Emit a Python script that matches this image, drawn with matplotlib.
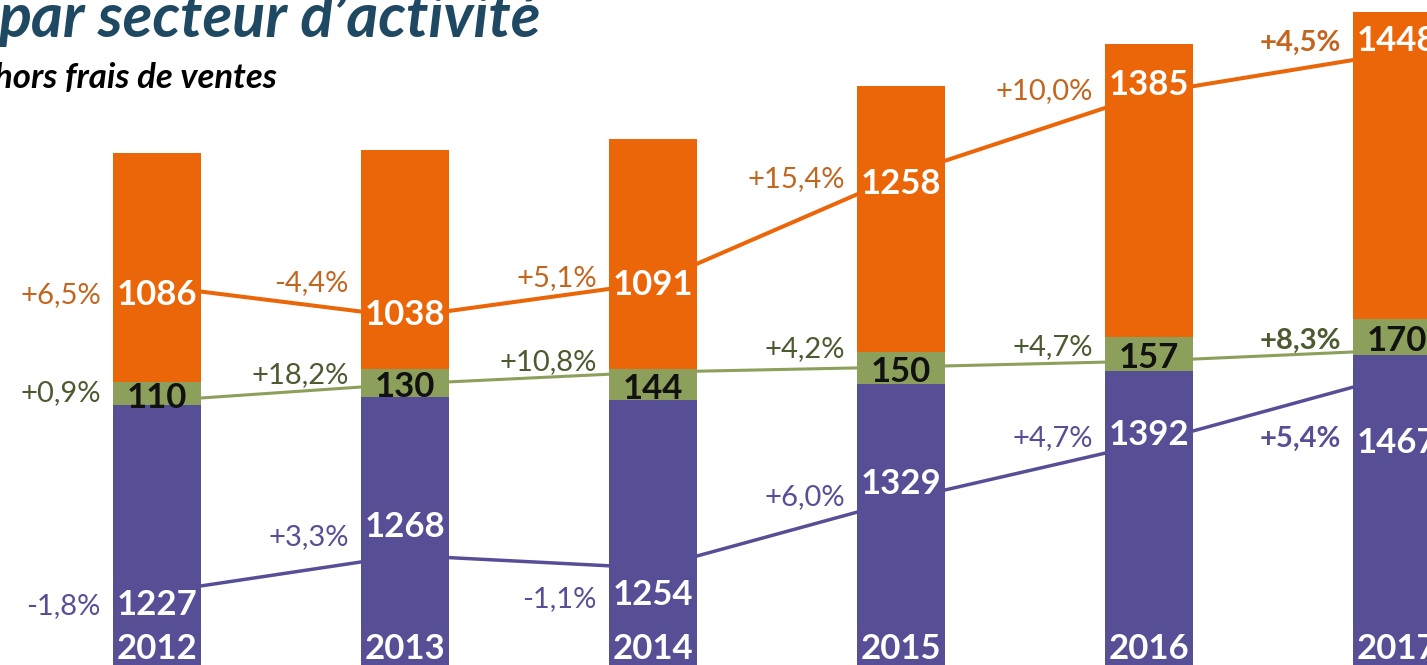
import matplotlib.pyplot as plt
import numpy as np

years = ['2012', '2013', '2014', '2015', '2016', '2017']
purple_vals = [1227, 1268, 1254, 1329, 1392, 1467]
green_vals = [110, 130, 144, 150, 157, 170]
orange_vals = [1086, 1038, 1091, 1258, 1385, 1448]
purple_pct = ['-1,8%', '+3,3%', '-1,1%', '+6,0%', '+4,7%', '+5,4%']
green_pct = ['+0,9%', '+18,2%', '+10,8%', '+4,2%', '+4,7%', '+8,3%']
orange_pct = ['+6,5%', '-4,4%', '+5,1%', '+15,4%', '+10,0%', '+4,5%']

PURPLE = '#574F96'
GREEN = '#8C9F5B'
ORANGE = '#EA6608'
PURPLE_TXT = '#574F96'
GREEN_TXT = '#4B5A30'
ORANGE_TXT = '#C2661F'

plt.rcParams['font.family'] = ['Lato', 'DejaVu Sans']

fig = plt.figure(figsize=(14.27, 6.65), dpi=100)
x = np.arange(len(years))
xlim = (-0.633, 5.121)
width = 0.355


def line_axes(lims):
    a = fig.add_axes([0, 0, 1, 1], zorder=0)
    a.set_xlim(*xlim)
    a.set_ylim(*lims)
    a.axis('off')
    return a


# each line has its own scale, drawn behind the bars
ax_p = line_axes((1147, 1881))
ax_g = line_axes((-200.6, 581.8))
ax_o = line_axes((498, 1530))
ax_p.plot(x, purple_vals, color=PURPLE, lw=2.5)
ax_g.plot(x, green_vals, color=GREEN, lw=2.2)
ax_o.plot(x, orange_vals, color=ORANGE, lw=2.9)

ax = fig.add_axes([0, 0, 1, 1], zorder=1)
ax.set_xlim(*xlim)
ax.set_ylim(0, 3144)
ax.axis('off')

p = np.array(purple_vals)
g = np.array(green_vals)
o = np.array(orange_vals)
ax.bar(x, p, width, color=PURPLE)
ax.bar(x, g, width, bottom=p, color=GREEN)
ax.bar(x, o, width, bottom=p + g, color=ORANGE)

# label offsets in pixels (manual placement as in the original)
o_val_dy = [-18.5, -7.5, -12, -18.5, -2, 1.5]
p_val_dy = [-22, 18.5, -37, 6, -2, -77.5]
o_pct_dy = [-17, 26, -3.5, -12, -6, 2]
g_pct_dy = [-0.5, 1, 2.5, 9.5, 6, 1]
p_pct_dy = [-22, 10, -38.5, -4.5, -3, -71.5]

val_fs = 25
pct_fs = 21

for i in x:
    last = i == len(x) - 1
    pw = 'bold' if last else 'normal'
    # values
    ax.annotate(str(orange_vals[i]), xy=(i, orange_vals[i]), xycoords=ax_o.transData,
                xytext=(0, o_val_dy[i]), textcoords='offset pixels', ha='center',
                va='baseline', fontsize=val_fs, fontweight='bold', color='white')
    ax.annotate(str(purple_vals[i]), xy=(i, purple_vals[i]), xycoords=ax_p.transData,
                xytext=(0, p_val_dy[i]), textcoords='offset pixels', ha='center',
                va='baseline', fontsize=val_fs, fontweight='bold', color='white')
    ax.annotate(str(green_vals[i]), xy=(i, p[i] + g[i] / 2), xycoords='data',
                xytext=(0, -14), textcoords='offset pixels', ha='center',
                va='baseline', fontsize=val_fs, fontweight='bold', color='#111111')
    # percentages
    ax.annotate(orange_pct[i], xy=(i - width / 2, orange_vals[i]), xycoords=ax_o.transData,
                xytext=(-12, o_pct_dy[i]), textcoords='offset pixels', ha='right',
                va='baseline', fontsize=pct_fs, fontweight=pw, color=ORANGE_TXT)
    ax.annotate(green_pct[i], xy=(i - width / 2, green_vals[i]), xycoords=ax_g.transData,
                xytext=(-12, g_pct_dy[i]), textcoords='offset pixels', ha='right',
                va='baseline', fontsize=pct_fs, fontweight=pw, color=GREEN_TXT)
    ax.annotate(purple_pct[i], xy=(i - width / 2, purple_vals[i]), xycoords=ax_p.transData,
                xytext=(-12, p_pct_dy[i]), textcoords='offset pixels', ha='right',
                va='baseline', fontsize=pct_fs, fontweight=pw, color=PURPLE_TXT)
    # years
    ax.annotate(years[i], xy=(i, 0), xycoords='data', xytext=(0, 0),
                textcoords='offset pixels', ha='center', va='bottom',
                fontsize=val_fs, fontweight='bold', color='white')

fig.text(541 / 1427, 1 - 37 / 665, 'par secteur d\u2019activit\u00e9', ha='right',
         va='baseline', fontsize=44, fontweight='bold', style='italic', color='#1F4963')
fig.text(277 / 1427, 1 - 88 / 665, 'hors frais de ventes', ha='right', va='baseline',
         fontsize=25, fontweight='bold', style='italic', color='black')

plt.savefig('out.png', dpi=100)
